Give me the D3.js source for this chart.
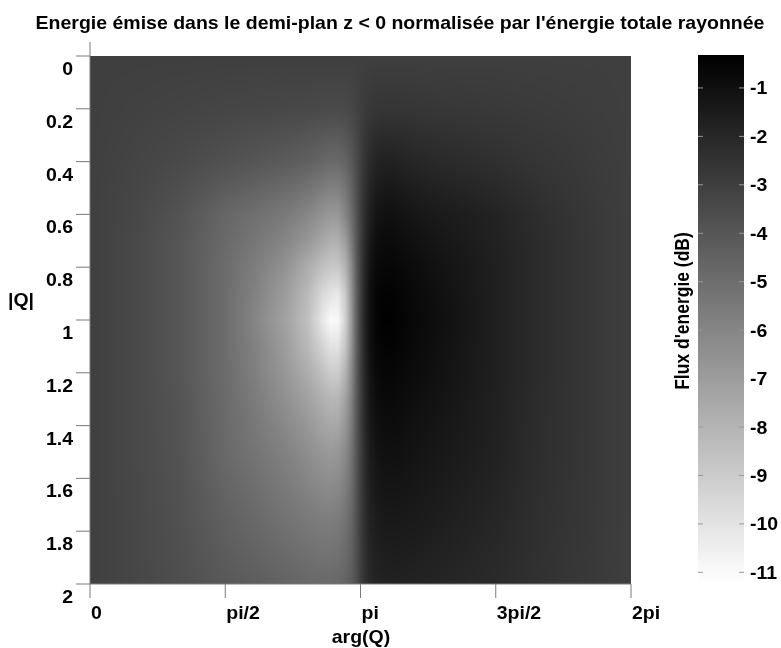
<!DOCTYPE html>
<html><head><meta charset="utf-8">
<script src="https://cdn.jsdelivr.net/npm/d3@7"></script>
<style>
body{margin:0;background:#fff;}
#wrap{position:relative;width:781px;height:648px;overflow:hidden;}
#wrap canvas,#wrap svg{position:absolute;left:0;top:0;}
text{font-family:"Liberation Sans",Arial,sans-serif;font-weight:bold;fill:#000;}
</style></head><body><div id="wrap"></div>
<script>
// ---- data ----
const argDeg = [0,30,60,90,110,130,145,155,160,165,170,174,177,180,183,186,190,195,200,205,215,230,250,270,300,330,360];
const modQ = [0,0.2,0.4,0.6,0.7,0.8,0.9,1.0,1.1,1.2,1.3,1.5,1.75,2.0];
const fluxDb = [
 [-3.01,-3.01,-3.01,-3.01,-3.01,-3.01,-3.01,-3.01,-3.01,-3.01,-3.01,-3.01,-3.01,-3.01,-3.01,-3.01,-3.01,-3.01,-3.01,-3.01,-3.01,-3.01,-3.01,-3.01,-3.01,-3.01,-3.01],
 [-3.01,-3.10,-3.19,-3.28,-3.33,-3.37,-3.42,-3.47,-3.47,-3.47,-3.42,-3.33,-3.19,-3.01,-2.84,-2.72,-2.64,-2.60,-2.60,-2.60,-2.64,-2.68,-2.72,-2.76,-2.84,-2.92,-3.01],
 [-3.01,-3.23,-3.47,-3.77,-3.98,-4.20,-4.44,-4.69,-4.82,-4.82,-4.56,-4.09,-3.57,-3.01,-2.52,-2.15,-1.87,-1.74,-1.74,-1.81,-1.94,-2.08,-2.22,-2.37,-2.60,-2.80,-3.01],
 [-3.01,-3.37,-3.87,-4.69,-5.09,-5.53,-6.02,-6.58,-6.78,-6.78,-6.02,-4.95,-3.98,-3.01,-2.22,-1.68,-1.25,-1.02,-1.02,-1.08,-1.25,-1.43,-1.61,-1.81,-2.29,-2.68,-3.01],
 [-3.01,-3.42,-3.98,-4.82,-5.38,-6.02,-6.78,-7.45,-7.83,-7.83,-6.99,-5.53,-4.20,-3.01,-2.08,-1.43,-0.97,-0.78,-0.78,-0.86,-1.02,-1.25,-1.49,-1.74,-2.22,-2.64,-3.01],
 [-3.01,-3.42,-3.98,-4.95,-5.69,-6.58,-7.70,-8.54,-8.86,-8.86,-7.96,-6.20,-4.44,-3.01,-1.94,-1.19,-0.76,-0.61,-0.61,-0.66,-0.81,-1.08,-1.37,-1.68,-2.22,-2.64,-3.01],
 [-3.01,-3.42,-3.98,-4.95,-5.85,-6.99,-8.24,-9.59,-10.00,-10.22,-8.86,-6.58,-4.56,-3.01,-1.87,-1.08,-0.61,-0.43,-0.46,-0.51,-0.71,-0.97,-1.31,-1.68,-2.22,-2.64,-3.01],
 [-3.01,-3.42,-3.98,-4.95,-6.02,-7.21,-8.54,-10.22,-10.97,-10.97,-9.21,-6.78,-4.69,-3.01,-1.81,-1.02,-0.56,-0.36,-0.36,-0.43,-0.66,-0.92,-1.25,-1.68,-2.22,-2.64,-3.01],
 [-3.01,-3.42,-3.98,-4.95,-5.85,-6.99,-8.24,-9.39,-10.00,-10.00,-8.70,-6.58,-4.56,-3.01,-1.87,-1.08,-0.63,-0.46,-0.46,-0.53,-0.71,-0.97,-1.31,-1.68,-2.22,-2.64,-3.01],
 [-3.01,-3.42,-3.98,-4.95,-5.77,-6.78,-7.70,-8.54,-9.03,-9.03,-7.96,-6.20,-4.44,-3.01,-1.94,-1.19,-0.76,-0.58,-0.58,-0.66,-0.81,-1.02,-1.34,-1.68,-2.22,-2.64,-3.01],
 [-3.01,-3.42,-3.93,-4.88,-5.61,-6.48,-7.21,-7.83,-8.10,-8.10,-7.21,-5.85,-4.32,-3.01,-2.01,-1.31,-0.92,-0.73,-0.73,-0.78,-0.92,-1.11,-1.40,-1.71,-2.26,-2.64,-3.01],
 [-3.01,-3.42,-3.87,-4.82,-5.30,-5.85,-6.38,-6.78,-6.88,-6.78,-6.20,-5.23,-4.09,-3.01,-2.15,-1.55,-1.19,-1.02,-1.00,-1.02,-1.14,-1.31,-1.52,-1.74,-2.29,-2.64,-3.01],
 [-3.01,-3.37,-3.77,-4.44,-4.82,-5.23,-5.53,-5.69,-5.69,-5.61,-5.23,-4.69,-3.87,-3.01,-2.29,-1.81,-1.55,-1.40,-1.37,-1.37,-1.43,-1.55,-1.74,-1.94,-2.37,-2.68,-3.01],
 [-3.01,-3.33,-3.67,-4.09,-4.32,-4.56,-4.75,-4.82,-4.82,-4.75,-4.56,-4.20,-3.67,-3.01,-2.44,-2.08,-1.87,-1.77,-1.74,-1.74,-1.77,-1.87,-2.01,-2.15,-2.44,-2.72,-3.01]
];
const xTickValues = [0, 90, 180, 270, 360];           // degrees
const xTickLabels = ["0","pi/2","pi","3pi/2","2pi"];
const yTickValues = [0,0.2,0.4,0.6,0.8,1,1.2,1.4,1.6,1.8,2];
const yTickLabels = ["0","0.2","0.4","0.6","0.8","1","1.2","1.4","1.6","1.8","2"];
const cbTickValues = [-1,-2,-3,-4,-5,-6,-7,-8,-9,-10,-11];
const colorDomain = [-11.22, -0.32];
const titleText = "Energie émise dans le demi-plan z < 0 normalisée par l'énergie totale rayonnée";
const xLabel = "arg(Q)", yLabel = "|Q|", cbLabel = "Flux d'energie (dB)";

// ---- layout ----
const W = 781, H = 648;
const plot = {l:90, t:56, r:631, b:584};
const cb = {l:698, r:744, t:55, b:583};
const FS = 17.5, SX = 1.115;

const x = d3.scaleLinear().domain([0,360]).range([plot.l, plot.r]);
const y = d3.scaleLinear().domain([0,2]).range([plot.t, plot.b]);
const gray = d3.scaleLinear().domain(colorDomain).range([255,0]).clamp(true);
const colorOf = v => { const g = Math.round(gray(v)); return `rgb(${g},${g},${g})`; };

const wrap = d3.select("#wrap");
const pw = plot.r - plot.l, ph = plot.b - plot.t;
const canvas = wrap.append("canvas").attr("width", pw).attr("height", ph)
  .style("left", plot.l + "px").style("top", plot.t + "px");
const ctx = canvas.node().getContext("2d");
const img = ctx.createImageData(pw, ph);
function sample(a, r) {
  let i = d3.bisectRight(argDeg, a) - 1; i = Math.max(0, Math.min(argDeg.length - 2, i));
  let j = d3.bisectRight(modQ, r) - 1; j = Math.max(0, Math.min(modQ.length - 2, j));
  const tx = (a - argDeg[i]) / (argDeg[i+1] - argDeg[i]);
  const ty = (r - modQ[j]) / (modQ[j+1] - modQ[j]);
  const v00 = fluxDb[j][i], v01 = fluxDb[j][i+1], v10 = fluxDb[j+1][i], v11 = fluxDb[j+1][i+1];
  return (v00*(1-tx) + v01*tx)*(1-ty) + (v10*(1-tx) + v11*tx)*ty;
}
for (let py = 0; py < ph; py++) {
  const r = y.invert(plot.t + py + 0.5);
  for (let px = 0; px < pw; px++) {
    const a = x.invert(plot.l + px + 0.5);
    const g = Math.round(gray(sample(a, r)));
    const k = (py*pw + px)*4;
    img.data[k] = g; img.data[k+1] = g; img.data[k+2] = g; img.data[k+3] = 255;
  }
}
ctx.putImageData(img, 0, 0);

const svg = wrap.append("svg").attr("width", W).attr("height", H);
function label(g, tx, ty, txt, anchor, extra) {
  return g.append("text")
    .attr("transform", `translate(${tx},${ty}) ${extra || `scale(${SX},1)`}`)
    .attr("text-anchor", anchor).style("font-size", FS + "px").text(txt);
}

// title
label(svg, 400, 29, titleText, "middle");

// y axis
const axCol = "#7a7a7a";
svg.append("line").attr("x1", plot.l).attr("x2", plot.l).attr("y1", plot.t - 14).attr("y2", plot.b)
  .attr("stroke", axCol);
const yt = svg.append("g");
yt.selectAll("line").data(yTickValues).join("line")
  .attr("x1", plot.l - 14).attr("x2", plot.l).attr("y1", d => y(d)).attr("y2", d => y(d)).attr("stroke", axCol);
yTickValues.forEach((d,i) => label(yt, 73, y(d) + 19, yTickLabels[i], "end"));

// x axis
svg.append("line").attr("x1", plot.l).attr("x2", plot.r).attr("y1", plot.b).attr("y2", plot.b).attr("stroke", axCol);
const xt = svg.append("g");
xt.selectAll("line").data(xTickValues).join("line")
  .attr("x1", d => x(d)).attr("x2", d => x(d)).attr("y1", plot.b).attr("y2", plot.b + 14).attr("stroke", axCol);
xTickValues.forEach((d,i) => label(xt, x(d) + 1, 619, xTickLabels[i], "start"));

label(svg, 361, 643, xLabel, "middle");
label(svg, 21, 306, yLabel, "middle");

// colorbar
const cy = d3.scaleLinear().domain(colorDomain).range([cb.b, cb.t]);
const defs = svg.append("defs");
const grad = defs.append("linearGradient").attr("id","cbg").attr("x1",0).attr("x2",0).attr("y1",1).attr("y2",0);
d3.range(0, 11).forEach(i => {
  const v = colorDomain[0] + (colorDomain[1]-colorDomain[0]) * i/10;
  grad.append("stop").attr("offset", i/10).attr("stop-color", colorOf(v));
});
svg.append("rect").attr("x", cb.l).attr("y", cb.t).attr("width", cb.r - cb.l).attr("height", cb.b - cb.t)
  .attr("fill","url(#cbg)");
const cbt = svg.append("g");
cbt.selectAll("line.l").data(cbTickValues).join("line").attr("class","l")
  .attr("x1", cb.l).attr("x2", cb.l + 5).attr("y1", d => cy(d)).attr("y2", d => cy(d)).attr("stroke","#999");
cbt.selectAll("line.r").data(cbTickValues).join("line").attr("class","r")
  .attr("x1", cb.r - 5).attr("x2", cb.r).attr("y1", d => cy(d)).attr("y2", d => cy(d)).attr("stroke","#999");
cbTickValues.forEach(d => label(cbt, cb.r + 6, cy(d) + 6.5, String(d), "start"));
label(svg, 689, 311, cbLabel, "middle", `rotate(-90) scale(1,${SX})`);
</script></body></html>
